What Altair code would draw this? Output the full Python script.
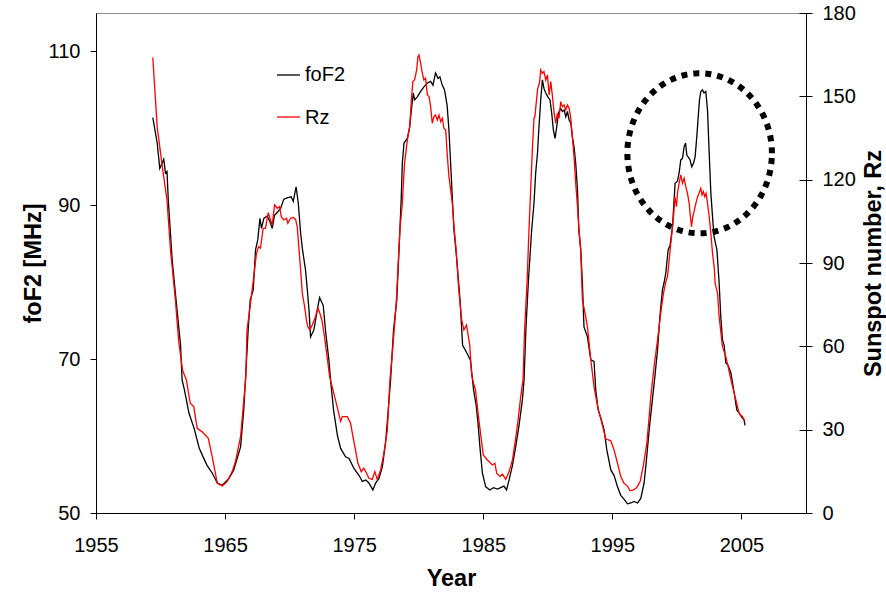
import altair as alt
import pandas as pd
import numpy as np

# ---- foF2 (left axis, MHz) ----
fof2_year = [1959.40, 1959.74, 1959.94, 1960.25, 1960.38, 1960.50, 1960.60, 1960.90, 1961.20, 1961.55,
             1961.67, 1961.85, 1962.20, 1962.60, 1963.00, 1963.35, 1963.60, 1964.00, 1964.40, 1964.78,
             1965.30, 1965.67, 1966.20, 1966.45, 1966.58, 1966.80, 1966.95, 1967.18, 1967.36, 1967.53,
             1967.70, 1967.82, 1968.00, 1968.26, 1968.47, 1968.65, 1968.83, 1969.10, 1969.30, 1969.55,
             1969.86, 1970.12, 1970.28, 1970.50, 1970.67, 1970.85, 1971.00, 1971.23, 1971.37, 1971.50,
             1971.62, 1971.88, 1972.14, 1972.32, 1972.60, 1972.80, 1973.04, 1973.17, 1973.40, 1973.70,
             1973.95, 1974.33, 1974.60, 1974.98, 1975.37, 1975.63, 1975.90, 1976.14, 1976.45, 1976.66,
             1976.92, 1977.18, 1977.43, 1977.62, 1977.82, 1978.05, 1978.30, 1978.54, 1978.65, 1978.73,
             1978.86, 1979.12, 1979.30, 1979.43, 1979.58, 1979.68, 1979.89, 1980.15, 1980.40, 1980.67,
             1980.92, 1981.10, 1981.30, 1981.50, 1981.64, 1981.83, 1982.00, 1982.20, 1982.34, 1982.47,
             1982.60, 1982.73, 1982.95, 1983.20, 1983.40, 1983.70, 1984.00, 1984.25, 1984.45, 1984.60,
             1984.74, 1984.93, 1985.19, 1985.52, 1985.78, 1986.10, 1986.35, 1986.60, 1986.80, 1987.00,
             1987.26, 1987.51, 1987.77, 1988.03, 1988.16, 1988.30, 1988.50, 1988.75, 1988.93, 1989.06,
             1989.20, 1989.30, 1989.45, 1989.58, 1989.70, 1989.84, 1990.00, 1990.17, 1990.30, 1990.43,
             1990.56, 1990.69, 1990.82, 1991.00, 1991.13, 1991.26, 1991.39, 1991.52, 1991.65, 1991.78,
             1991.90, 1992.03, 1992.16, 1992.30, 1992.40, 1992.55, 1992.68, 1992.80, 1993.07, 1993.33,
             1993.58, 1993.71, 1993.90, 1994.15, 1994.36, 1994.57, 1994.88, 1995.13, 1995.40, 1995.65,
             1995.90, 1996.17, 1996.43, 1996.68, 1996.95, 1997.20, 1997.46, 1997.64, 1997.85, 1998.10,
             1998.29, 1998.50, 1998.68, 1998.88, 1999.00, 1999.14, 1999.32, 1999.47, 1999.66, 1999.78,
             1999.86, 2000.04, 2000.17, 2000.30, 2000.43, 2000.56, 2000.67, 2000.77, 2000.87, 2001.02,
             2001.15, 2001.29, 2001.41, 2001.54, 2001.65, 2001.75, 2001.85, 2001.98, 2002.10, 2002.24,
             2002.37, 2002.50, 2002.63, 2002.76, 2002.88, 2003.10, 2003.27, 2003.40, 2003.53, 2003.66,
             2003.79, 2003.97, 2004.18, 2004.31, 2004.44, 2004.64, 2004.82, 2005.00, 2005.20, 2005.28]
fof2_val = [101.4, 98.1, 94.8, 96.0, 94.2, 94.4, 90.7, 82.9, 77.7, 71.8,
            67.3, 66.0, 63.0, 61.0, 58.4, 57.1, 56.2, 55.2, 53.9, 53.6,
            54.5, 55.6, 58.6, 63.5, 67.4, 74.2, 77.7, 79.0, 84.2, 85.5,
            88.3, 87.0, 88.3, 88.6, 87.9, 87.0, 88.7, 89.2, 89.6, 90.8,
            91.0, 91.1, 90.5, 92.4, 90.3, 86.4, 84.2, 81.6, 79.0, 76.4,
            72.9, 73.8, 76.4, 78.0, 77.0, 73.4, 69.9, 67.3, 63.4, 60.1,
            58.4, 57.3, 57.1, 55.8, 54.9, 54.1, 54.3, 53.9, 53.0, 53.9,
            54.5, 56.0, 59.1, 63.0, 67.3, 73.8, 77.7, 86.8, 91.1, 95.5,
            98.1, 98.7, 100.2, 102.4, 104.6, 103.7, 104.1, 104.8, 105.4, 105.9,
            106.1, 105.6, 107.2, 106.5, 106.7, 105.6, 105.0, 103.0, 99.8, 95.5,
            91.1, 86.8, 82.9, 77.7, 71.8, 70.9, 69.9, 66.0, 64.0, 61.5,
            58.6, 55.2, 53.4, 53.0, 53.3, 53.1, 53.3, 53.5, 53.0, 54.3,
            56.2, 58.6, 61.4, 64.7, 67.3, 73.8, 80.3, 86.8, 90.3, 94.2,
            96.8, 99.8, 103.7, 106.3, 105.2, 104.6, 104.1, 103.7, 102.0, 99.8,
            98.7, 100.2, 102.0, 102.6, 102.2, 102.4, 101.5, 102.2, 101.1, 100.7,
            98.9, 97.6, 95.5, 92.0, 86.8, 84.2, 79.9, 74.2, 72.9, 69.9,
            69.7, 66.0, 63.4, 62.1, 60.8, 58.2, 55.6, 54.9, 53.4, 52.3,
            51.8, 51.2, 51.3, 51.5, 51.3, 51.9, 53.9, 56.9, 60.8, 64.7,
            67.7, 71.2, 75.5, 79.0, 79.9, 81.2, 84.2, 84.8, 87.2, 90.7,
            92.9, 93.1, 94.2, 95.9, 96.1, 97.6, 98.1, 96.5, 96.3, 95.9,
            95.0, 95.5, 96.3, 98.9, 101.5, 103.7, 104.8, 105.0, 104.6, 104.8,
            102.4, 96.8, 91.6, 88.5, 85.9, 84.2, 79.9, 75.5, 72.5, 71.8,
            69.5, 69.2, 68.2, 66.9, 65.6, 63.4, 63.0, 62.5, 62.1, 61.4]

# ---- Rz (right axis, sunspot number) ----
rz_year = [1959.40, 1959.74, 1960.17, 1960.50, 1960.77, 1961.15, 1961.40, 1961.70, 1962.00, 1962.30,
           1962.57, 1962.84, 1963.20, 1963.70, 1964.00, 1964.40, 1964.78, 1965.16, 1965.55, 1965.80,
           1966.20, 1966.60, 1966.70, 1966.97, 1967.22, 1967.43, 1967.60, 1967.74, 1967.95, 1968.13,
           1968.34, 1968.52, 1968.65, 1968.83, 1969.04, 1969.22, 1969.35, 1969.55, 1969.76, 1969.86,
           1970.07, 1970.28, 1970.46, 1970.59, 1970.71, 1970.85, 1970.98, 1971.16, 1971.30, 1971.40,
           1971.57, 1971.75, 1972.00, 1972.20, 1972.30, 1972.50, 1972.70, 1972.90, 1973.10, 1973.55,
           1973.95, 1974.08, 1974.47, 1974.72, 1974.93, 1975.10, 1975.29, 1975.55, 1975.75, 1975.96,
           1976.14, 1976.40, 1976.60, 1976.79, 1977.05, 1977.30, 1977.57, 1977.77, 1978.00, 1978.25,
           1978.54, 1978.73, 1978.90, 1979.12, 1979.30, 1979.45, 1979.55, 1979.68, 1979.84, 1979.94,
           1980.02, 1980.15, 1980.28, 1980.40, 1980.53, 1980.67, 1980.80, 1980.92, 1981.05, 1981.18,
           1981.30, 1981.44, 1981.57, 1981.70, 1981.83, 1981.95, 1982.09, 1982.22, 1982.34, 1982.47,
           1982.60, 1982.73, 1982.90, 1983.10, 1983.33, 1983.50, 1983.70, 1983.95, 1984.10, 1984.23,
           1984.40, 1984.60, 1984.80, 1985.00, 1985.32, 1985.70, 1985.90, 1986.04, 1986.30, 1986.48,
           1986.74, 1987.00, 1987.26, 1987.51, 1987.70, 1987.90, 1988.08, 1988.20, 1988.40, 1988.54,
           1988.67, 1988.80, 1988.93, 1989.00, 1989.20, 1989.37, 1989.45, 1989.58, 1989.70, 1989.84,
           1989.97, 1990.10, 1990.23, 1990.36, 1990.49, 1990.62, 1990.74, 1990.87, 1991.00, 1991.13,
           1991.26, 1991.39, 1991.52, 1991.65, 1991.78, 1991.90, 1992.03, 1992.16, 1992.30, 1992.40,
           1992.55, 1992.68, 1992.86, 1993.07, 1993.33, 1993.58, 1993.85, 1994.10, 1994.49, 1994.88,
           1995.13, 1995.40, 1995.65, 1995.90, 1996.17, 1996.37, 1996.63, 1996.89, 1997.15, 1997.41,
           1997.67, 1997.85, 1997.98, 1998.23, 1998.50, 1998.76, 1998.96, 1999.14, 1999.27, 1999.40,
           1999.58, 1999.74, 1999.84, 1999.97, 2000.04, 2000.17, 2000.30, 2000.43, 2000.56, 2000.69,
           2000.82, 2000.95, 2001.02, 2001.13, 2001.23, 2001.33, 2001.47, 2001.60, 2001.72, 2001.85,
           2001.95, 2002.05, 2002.16, 2002.26, 2002.37, 2002.50, 2002.63, 2002.76, 2002.90, 2002.96,
           2003.15, 2003.27, 2003.53, 2003.79, 2004.05, 2004.31, 2004.57, 2004.82, 2005.08, 2005.26]
rz_val = [164.0, 139.0, 123.5, 112.7, 94.7, 76.7, 62.0, 51.5, 47.9, 39.5,
          38.3, 30.5, 29.3, 26.9, 20.3, 10.7, 9.7, 11.3, 14.9, 18.5,
          27.5, 48.5, 65.9, 75.5, 85.1, 93.5, 95.9, 95.3, 102.5, 102.5,
          108.1, 105.5, 103.7, 110.9, 109.7, 110.3, 106.7, 105.5, 106.1, 104.3,
          106.1, 106.4, 105.7, 103.1, 95.9, 87.5, 79.1, 74.3, 69.5, 67.1,
          65.9, 67.7, 70.7, 73.7, 72.5, 69.5, 63.5, 56.3, 49.1, 40.7,
          33.0, 34.7, 34.7, 32.3, 26.9, 22.7, 17.9, 14.9, 16.1, 14.3,
          12.5, 12.1, 14.9, 12.1, 15.5, 21.5, 29.9, 47.9, 60.0, 75.0,
          101.9, 111.5, 125.9, 134.3, 139.1, 149.9, 155.3, 155.9, 159.5, 164.3,
          164.9, 161.9, 158.3, 155.9, 156.5, 150.5, 149.9, 146.3, 140.3, 142.7,
          143.3, 141.5, 143.3, 140.9, 142.1, 138.5, 137.9, 128.3, 121.1, 116.3,
          111.5, 103.1, 94.7, 80.3, 69.5, 65.9, 67.7, 60.5, 49.7, 47.0,
          44.3, 35.9, 28.1, 20.9, 19.1, 17.3, 17.9, 14.3, 13.1, 14.0,
          12.1, 14.9, 19.1, 26.9, 33.5, 41.9, 47.9, 65.9, 83.9, 101.9,
          116.3, 130.7, 142.1, 142.7, 152.3, 155.3, 159.5, 158.3, 158.9, 155.9,
          157.7, 150.5, 155.3, 149.9, 143.9, 140.3, 143.9, 142.1, 148.1, 146.3,
          146.9, 145.1, 146.9, 145.7, 142.1, 135.5, 128.3, 118.7, 110.3, 103.1,
          94.7, 76.7, 72.5, 67.1, 55.1, 45.5, 38.5, 34.0, 26.7, 26.0,
          22.7, 17.9, 13.1, 10.7, 9.7, 8.0, 8.3, 9.2, 11.3, 17.3,
          25.1, 34.7, 41.9, 52.7, 62.3, 72.5, 79.1, 83.3, 85.1, 91.1,
          99.5, 106.7, 113.9, 110.3, 115.1, 118.7, 121.7, 118.7, 120.5, 117.5,
          115.1, 111.5, 107.9, 103.1, 106.7, 108.5, 111.5, 113.9, 115.1, 116.9,
          114.5, 115.7, 113.9, 115.1, 111.5, 106.7, 100.7, 93.5, 88.0, 82.7,
          79.1, 70.7, 59.9, 56.3, 50.9, 45.5, 40.7, 35.9, 34.7, 33.2]

x_ticks = [1955, 1965, 1975, 1985, 1995, 2005]
left_ticks = [50, 70, 90, 110]
right_ticks = [0, 30, 60, 90, 120, 150, 180]
legend_labels = ["foF2", "Rz"]

# dotted annotation ellipse (data units: years / MHz)
ell_center_year = 2001.76
ell_center_fof2 = 96.76
ell_rx_years = 5.6
ell_ry_mhz = 10.4

df_f = pd.DataFrame({"year": fof2_year, "fof2": fof2_val})
df_r = pd.DataFrame({"year": rz_year, "rz": rz_val})
t = np.linspace(0, 2 * np.pi, 241)
df_e = pd.DataFrame({"i": np.arange(len(t)),
                     "year": ell_center_year + ell_rx_years * np.cos(t),
                     "fof2": ell_center_fof2 + ell_ry_mhz * np.sin(t)})

FONT = "Liberation Sans"
xscale = alt.Scale(domain=[1955, 2010], nice=False, zero=False)
x_enc = alt.X("year:Q", scale=xscale,
              axis=alt.Axis(values=x_ticks, format="d", title="Year", tickSize=6,
                            labelPadding=16, labelFlush=False, labelOverlap=False,
                            titleX=355, titleY=72,
                            titleBaseline="alphabetic", titleAlign="center"))
lscale = alt.Scale(domain=[50, 115], nice=False, zero=False)
rscale = alt.Scale(domain=[0, 180], nice=False)

fof2_line = alt.Chart(df_f).mark_line(color="#000000", strokeWidth=1.3).encode(
    x=x_enc,
    y=alt.Y("fof2:Q", scale=lscale,
            axis=alt.Axis(values=left_ticks, title="foF2 [MHz]", orient="left", tickSize=6,
                          labelPadding=10, labelFlush=False, titleAngle=270, titleX=-56, titleY=250,
                          titleBaseline="alphabetic", titleAlign="center")))

rz_line = alt.Chart(df_r).mark_line(color="#ff0000", strokeWidth=1.3).encode(
    x=x_enc,
    y=alt.Y("rz:Q", scale=rscale,
            axis=alt.Axis(values=right_ticks, title="Sunspot number, Rz", orient="right",
                          tickSize=6, labelPadding=10, labelFlush=False, titleAngle=270,
                          titleX=74, titleY=250,
                          titleBaseline="alphabetic", titleAlign="center")))

# inward halves of the right-axis ticks
rz_inner = alt.Chart(df_r).mark_line(opacity=0).encode(
    x=x_enc,
    y=alt.Y("rz:Q", scale=rscale,
            axis=alt.Axis(values=right_ticks, title=None, orient="right", offset=-7,
                          tickSize=7, labels=False, domain=False)))

ellipse = alt.Chart(df_e).mark_line(color="#000000", strokeWidth=6, strokeDash=[6, 6],
                                    strokeCap="butt").encode(
    x=x_enc,
    y=alt.Y("fof2:Q", scale=lscale, axis=None),
    order="i:Q")

leg_df = pd.DataFrame({"label": legend_labels})
leg_f_rule = alt.Chart(leg_df.iloc[[0]]).mark_rule(color="#000000", strokeWidth=1.3).encode(
    x=alt.value(181), x2=alt.value(204), y=alt.value(62))
leg_r_rule = alt.Chart(leg_df.iloc[[1]]).mark_rule(color="#ff0000", strokeWidth=1.3).encode(
    x=alt.value(181), x2=alt.value(204), y=alt.value(104))
leg_f_text = alt.Chart(leg_df.iloc[[0]]).mark_text(font=FONT, fontSize=20, align="left",
                                                   baseline="middle", color="#000000").encode(
    x=alt.value(209), y=alt.value(62), text="label:N")
leg_r_text = alt.Chart(leg_df.iloc[[1]]).mark_text(font=FONT, fontSize=20, align="left",
                                                   baseline="middle", color="#000000").encode(
    x=alt.value(209), y=alt.value(105), text="label:N")

chart = alt.layer(
    fof2_line, rz_line, rz_inner, ellipse,
    leg_f_rule, leg_r_rule, leg_f_text, leg_r_text
).resolve_scale(y="independent").properties(
    width=710, height=500,
    autosize=alt.AutoSizeParams(type="none"),
    padding={"left": 96, "top": 13, "right": 80, "bottom": 79},
).configure_view(
    stroke="#8c8c8c", strokeWidth=1
).configure_axis(
    grid=False, labelFont=FONT, labelFontSize=20, labelColor="#000000",
    titleFont=FONT, titleFontSize=23.5, titleFontWeight="bold", titleColor="#000000",
    domainColor="#000000", tickColor="#000000", domainWidth=1, tickWidth=1
)

chart.save("out.html", embed_options={"renderer": "svg", "actions": False})
